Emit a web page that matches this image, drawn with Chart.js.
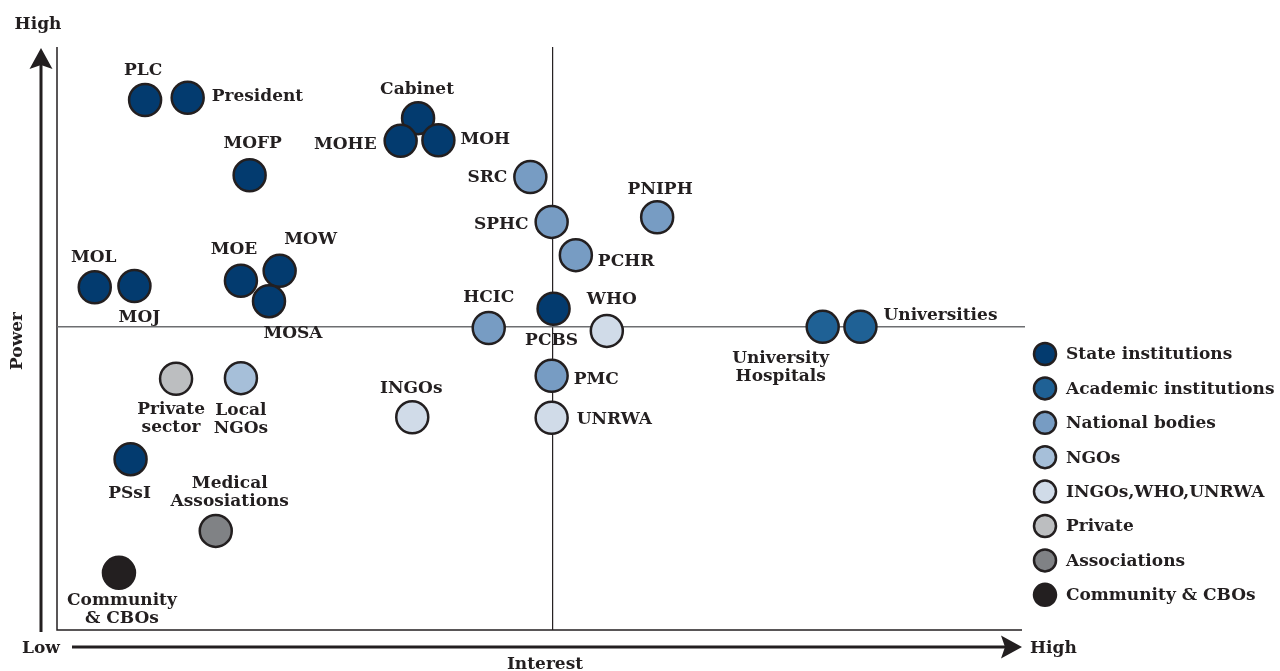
<!DOCTYPE html>
<html>
<head>
<meta charset="utf-8">
<title>Stakeholder power / interest</title>
<script src="https://cdn.jsdelivr.net/npm/chart.js@4.4.0/dist/chart.umd.min.js"></script>
<style>
  html, body { margin: 0; padding: 0; background: #fff; }
  canvas { display: block; }
</style>
</head>
<body>
<canvas id="stakeholderChart" width="1280" height="671"></canvas>
<script>
// groups shown in the legend
const groups = ['State institutions', 'Academic institutions', 'National bodies', 'NGOs',
  'INGOs,WHO,UNRWA', 'Private', 'Associations', 'Community & CBOs'];
const groupColors = ['#033b6f', '#1f6195', '#779cc3', '#a6bfd9', '#d0dbe8', '#bcbec0', '#808285', '#231f20'];

// stakeholders (interest 0-100 left to right, power 0-100 bottom to top)
const stakeholders = ['PLC', 'President', 'MOFP', 'Cabinet', 'MOHE', 'MOH', 'MOL', 'MOJ', 'MOE', 'MOW',
  'MOSA', 'PCBS', 'PSsI', 'University\nHospitals', 'Universities', 'SRC', 'SPHC', 'PNIPH', 'PCHR', 'HCIC',
  'PMC', 'Local\nNGOs', 'INGOs', 'WHO', 'UNRWA', 'Private\nsector', 'Medical\nAssosiations', 'Community\n& CBOs'];
const interest = [9.1, 13.5, 19.9, 37.3, 35.5, 39.4, 3.9, 8.0, 19.0, 23.0,
  21.9, 51.3, 7.6, 79.1, 83.0, 48.9, 51.1, 62.0, 53.6, 44.6,
  51.1, 19.0, 36.7, 56.8, 51.1, 12.3, 16.4, 6.4];
const power = [90.9, 91.3, 78.0, 87.8, 83.9, 84.0, 58.8, 59.0, 59.9, 61.6,
  56.4, 55.1, 29.3, 52.0, 52.0, 77.7, 70.0, 70.8, 64.3, 51.8,
  43.6, 43.2, 36.5, 51.3, 36.4, 43.1, 17.0, 9.8];
const stakeholderGroup = [0, 0, 0, 0, 0, 0, 0, 0, 0, 0,
  0, 0, 0, 1, 1, 2, 2, 2, 2, 2,
  2, 3, 4, 4, 4, 5, 6, 7];

const midInterest = 51.2;
const midPower = 52.0;

// where each label sits relative to its circle: [dx, dy, align]
const labelAt = [[-2, -29, 'center'], [24, -1, 'left'], [3, -32, 'center'], [-1, -29, 'center'],
  [-24, 4, 'right'], [22, -1, 'left'], [-1, -30, 'center'], [5, 32, 'center'], [-7, -31, 'center'],
  [31, -31, 'center'], [24, 32, 'center'], [-2, 32, 'center'], [-1, 34, 'center'], [-42, 32, 'center'],
  [23, -11, 'left'], [-23, 1, 'right'], [-23, 3, 'right'], [3, -28, 'center'], [22, 6, 'left'],
  [0, -30, 'center'], [22, 4, 'left'], [0, 32, 'center'], [-1, -29, 'center'], [5, -31, 'center'],
  [25, 2, 'left'], [-5, 31, 'center'], [14, -47, 'center'], [3, 28, 'center']];

const FACE = '"DejaVu Serif", serif';
const INK = '#231f20';

function buildDatasets() {
  return groups.map((g, gi) => ({
    label: g,
    data: stakeholders
      .map((name, k) => ({ x: interest[k], y: power[k], k: k }))
      .filter(p => stakeholderGroup[p.k] === gi),
    backgroundColor: groupColors[gi],
    borderColor: INK,
    borderWidth: 2.5,
    pointRadius: 16,
    pointHoverRadius: 16
  }));
}

// frame and quadrant lines under the circles
const quadrantPlugin = {
  id: 'quadrants',
  beforeDatasetsDraw(chart) {
    const { ctx, chartArea: a, scales } = chart;
    const mx = scales.x.getPixelForValue(midInterest);
    const my = scales.y.getPixelForValue(midPower);
    ctx.save();
    ctx.strokeStyle = INK;
    ctx.lineWidth = 1.5;
    ctx.beginPath();
    ctx.moveTo(a.left, a.top);
    ctx.lineTo(a.left, a.bottom);
    ctx.lineTo(a.right - 3, a.bottom);
    ctx.stroke();
    ctx.lineWidth = 1.2;
    ctx.beginPath();
    ctx.moveTo(mx, a.top);
    ctx.lineTo(mx, a.bottom);
    ctx.stroke();
    ctx.strokeStyle = '#6d6e71';
    ctx.lineWidth = 1.5;
    ctx.beginPath();
    ctx.moveTo(a.left, my);
    ctx.lineTo(a.right, my);
    ctx.stroke();
    ctx.restore();
  }
};

// names next to the circles
const labelPlugin = {
  id: 'pointLabels',
  afterDatasetsDraw(chart) {
    const ctx = chart.ctx;
    ctx.save();
    ctx.fillStyle = INK;
    ctx.font = 'bold 17px ' + FACE;
    ctx.textBaseline = 'middle';
    chart.data.datasets.forEach((ds, i) => {
      const meta = chart.getDatasetMeta(i);
      ds.data.forEach((p, j) => {
        const el = meta.data[j];
        const [dx, dy, align] = labelAt[p.k];
        ctx.textAlign = align;
        stakeholders[p.k].split('\n').forEach((line, n) => {
          ctx.fillText(line, el.x + dx, el.y + dy + n * 18);
        });
      });
    });
    ctx.restore();
  }
};

// axis arrows, axis words and the legend
const decorPlugin = {
  id: 'decor',
  afterDraw(chart) {
    const { ctx, chartArea: a } = chart;
    ctx.save();
    ctx.fillStyle = INK;
    ctx.strokeStyle = INK;

    // power arrow
    const ax = a.left - 16;
    ctx.lineWidth = 3;
    ctx.beginPath();
    ctx.moveTo(ax, a.bottom + 2);
    ctx.lineTo(ax, a.top + 15);
    ctx.stroke();
    ctx.beginPath();
    ctx.moveTo(ax, a.top + 1);
    ctx.lineTo(ax - 11.5, a.top + 22);
    ctx.lineTo(ax, a.top + 18);
    ctx.lineTo(ax + 11.5, a.top + 22);
    ctx.closePath();
    ctx.fill();

    // interest arrow
    const ay = a.bottom + 17;
    const tip = a.right - 3;
    ctx.beginPath();
    ctx.moveTo(72, ay);
    ctx.lineTo(tip - 15, ay);
    ctx.stroke();
    ctx.beginPath();
    ctx.moveTo(tip, ay);
    ctx.lineTo(tip - 21, ay - 11.5);
    ctx.lineTo(tip - 17, ay);
    ctx.lineTo(tip - 21, ay + 11.5);
    ctx.closePath();
    ctx.fill();

    ctx.font = 'bold 17px ' + FACE;
    ctx.textBaseline = 'alphabetic';
    ctx.textAlign = 'center';
    ctx.fillText('High', 38, 29);
    ctx.fillText('Low', 41, 653);
    ctx.fillText('Interest', 545, 669);
    ctx.textAlign = 'left';
    ctx.textBaseline = 'middle';
    ctx.fillText('High', 1030, 649);

    ctx.save();
    ctx.translate(18, 341);
    ctx.rotate(-Math.PI / 2);
    ctx.textAlign = 'center';
    ctx.fillText('Power', 0, 0);
    ctx.restore();

    // legend
    groups.forEach((g, i) => {
      const cy = 354 + i * 34.4;
      ctx.beginPath();
      ctx.arc(1045, cy, 11, 0, Math.PI * 2);
      ctx.fillStyle = groupColors[i];
      ctx.fill();
      ctx.lineWidth = 2.5;
      ctx.strokeStyle = INK;
      ctx.stroke();
      ctx.fillStyle = INK;
      ctx.textAlign = 'left';
      ctx.fillText(g, 1066, cy + 1);
    });
    ctx.restore();
  }
};

const ctx = document.getElementById('stakeholderChart').getContext('2d');
new Chart(ctx, {
  type: 'scatter',
  data: { datasets: buildDatasets() },
  options: {
    responsive: false,
    animation: false,
    events: [],
    clip: false,
    layout: { padding: { left: 57, right: 255, top: 47, bottom: 41 } },
    scales: {
      x: { type: 'linear', min: 0, max: 100, display: false },
      y: { type: 'linear', min: 0, max: 100, display: false }
    },
    plugins: {
      legend: { display: false },
      tooltip: { enabled: false }
    }
  },
  plugins: [quadrantPlugin, labelPlugin, decorPlugin]
});
</script>
</body>
</html>
